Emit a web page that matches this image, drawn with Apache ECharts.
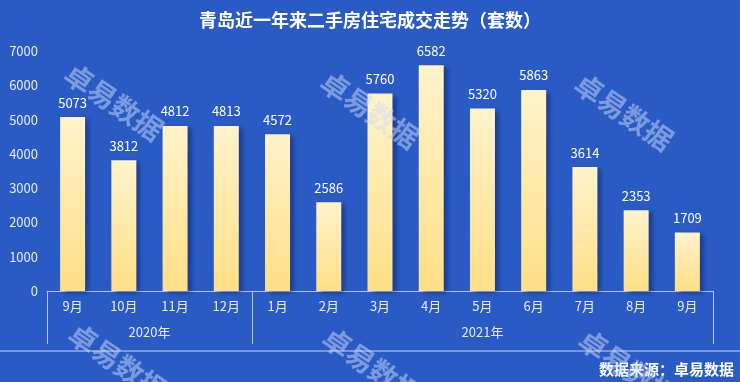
<!DOCTYPE html>
<html>
<head>
<meta charset="utf-8">
<script src="https://cdn.jsdelivr.net/npm/echarts@6/dist/echarts.min.js"></script>
<style>
html,body{margin:0;padding:0;background:#2a5bc5;}
#chart{width:740px;height:382px;}
</style>
</head>
<body>
<div id="chart"></div>
<script>
var months = ['9月','10月','11月','12月','1月','2月','3月','4月','5月','6月','7月','8月','9月'];
var values = [5073, 3812, 4812, 4813, 4572, 2586, 5760, 6582, 5320, 5863, 3614, 2353, 1709];
var years = ['2020年', '2021年'];
var yearSpans = [4, 9];
var yTicks = [0, 1000, 2000, 3000, 4000, 5000, 6000, 7000];

var yearBounds = [0];
var yearCenters = [];
(function(){
  var acc = 0;
  for (var i = 0; i < yearSpans.length; i++) {
    yearCenters.push(acc + yearSpans[i] / 2);
    acc += yearSpans[i];
    yearBounds.push(acc);
  }
})();

var font = '"Microsoft YaHei","Noto Sans CJK SC",sans-serif';
var chart = echarts.init(document.getElementById('chart'));

var watermarkPos = [[114,102],[370,110],[624,112],[118,362],[372,366],[628,368]];
var graphics = watermarkPos.map(function(p){
  return {
    type: 'text', x: p[0], y: p[1], rotation: -0.6, z: 100,
    style: { text: '卓易数据', font: 'bold 28px ' + font, fill: 'rgba(205,218,248,0.5)', align: 'center', verticalAlign: 'middle' },
    silent: true
  };
});
graphics.push({
  type: 'line', shape: { x1: 0, y1: 351, x2: 740, y2: 351 },
  style: { stroke: '#c9d6f2', lineWidth: 1 }
});
graphics.push({
  type: 'text', right: 6, top: 362,
  style: { text: '数据来源：卓易数据', font: 'bold 15px ' + font, fill: '#ffffff' }
});

chart.setOption({
  backgroundColor: '#2a5bc5',
  animation: false,
  title: {
    text: '青岛近一年来二手房住宅成交走势（套数）',
    left: 'center', top: 6,
    textStyle: { color: '#ffffff', fontSize: 18, fontWeight: 'bold', fontFamily: font }
  },
  grid: { left: 47, right: 27, top: 51, bottom: 91 },
  xAxis: [{
    type: 'category',
    data: months,
    axisLine: { lineStyle: { color: '#b8c8ee', width: 1 } },
    axisTick: { length: 26, lineStyle: { color: '#b8c8ee' } },
    axisLabel: { color: '#e6edff', fontSize: 13, margin: 9, fontFamily: font }
  }, {
    type: 'value',
    position: 'bottom',
    min: 0, max: yearBounds[yearBounds.length - 1],
    axisLine: { show: false },
    splitLine: { show: false },
    axisTick: { show: true, customValues: yearBounds, length: 53, lineStyle: { color: '#b8c8ee' } },
    axisLabel: {
      customValues: yearCenters,
      margin: 35,
      color: '#e6edff', fontSize: 13, fontFamily: font,
      formatter: function(v){
        var i = yearCenters.indexOf(v);
        return i >= 0 ? years[i] : '';
      }
    }
  }],
  yAxis: {
    type: 'value',
    min: yTicks[0], max: yTicks[yTicks.length - 1], interval: yTicks[1] - yTicks[0],
    axisLine: { show: false },
    axisTick: { show: false },
    splitLine: { show: false },
    axisLabel: { color: '#e6edff', fontSize: 13, margin: 9, fontFamily: font, formatter: function(v){ return String(v); } }
  },
  series: [{
    type: 'bar',
    data: values,
    barWidth: 25,
    label: { show: true, position: 'top', distance: 8, color: '#ffffff', fontSize: 13, fontFamily: font },
    itemStyle: {
      color: new echarts.graphic.LinearGradient(0, 0, 0, 1, [
        { offset: 0, color: '#fff3cc' },
        { offset: 1, color: '#ffdf86' }
      ]),
      shadowColor: 'rgba(10,30,90,0.55)',
      shadowBlur: 5,
      shadowOffsetX: 4,
      shadowOffsetY: 2
    }
  }],
  graphic: graphics
});
</script>
</body>
</html>
